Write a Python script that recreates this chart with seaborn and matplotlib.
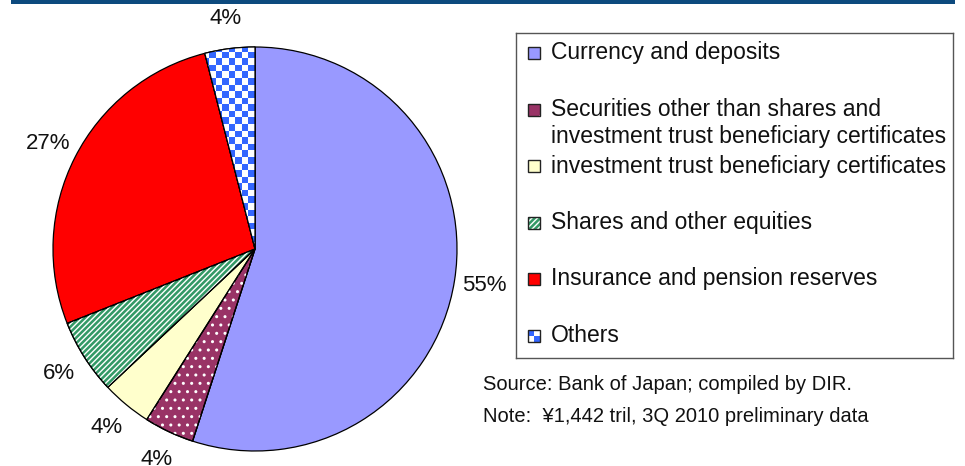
import numpy as np
import matplotlib
matplotlib.use("Agg")
import matplotlib.pyplot as plt
from matplotlib.patches import Wedge, Rectangle
from matplotlib.colors import ListedColormap
import seaborn as sns

# Household financial assets breakdown (Japan, 3Q 2010)
categories = [
    "Currency and deposits",
    "Securities other than shares and",
    "investment trust beneficiary certificates",
    "Shares and other equities",
    "Insurance and pension reserves",
    "Others",
]
extra_line = "investment trust beneficiary certificates"  # 2nd line of entry 2
shares_pct = [55, 4, 4, 6, 27, 4]
fill_colors = ["#9999ff", "#993366", "#ffffcc", "#339966", "#ff0000", "#ffffff"]
hatches = [None, "..", None, "//////", None, "checker"]

source_txt = "Source: Bank of Japan; compiled by DIR."
note_txt = "Note:  \u00a51,442 tril, 3Q 2010 preliminary data"

sns.set_theme(style="white")
plt.rcParams["font.family"] = ["Liberation Sans", "DejaVu Sans"]
plt.rcParams["hatch.linewidth"] = 1.0

W, H = 965, 466
fig = plt.figure(figsize=(W / 100, H / 100), dpi=100)
fig.patch.set_facecolor("white")

# navy band on top
fig.add_artist(Rectangle((11 / W, 1 - 4 / H), 944 / W, 4 / H,
                         transform=fig.transFigure, color="#0d4a7e", lw=0))

# --- pie ---------------------------------------------------------------
cx, cy, r = 255, H - 249, 202
half = 1.3 * r
ax = fig.add_axes([(cx - half) / W, (cy - half) / H, 2 * half / W, 2 * half / H])
wedges, _, autotexts = ax.pie(
    shares_pct, colors=fill_colors, startangle=90, counterclock=False,
    autopct=lambda p: f"{p:.0f}%", pctdistance=1.15,
    wedgeprops=dict(edgecolor="black", linewidth=0.9),
    textprops=dict(fontsize=16, color="#111111"),
)

checker = np.indices((80, 80)).sum(axis=0) % 2
checker_cmap = ListedColormap(["#ffffff", "#3366ff"])

for w, h in zip(wedges, hatches):
    if h is None:
        continue
    if h == "checker":
        clip = Wedge(w.center, w.r, w.theta1, w.theta2, transform=ax.transData)
        im = ax.imshow(checker, cmap=checker_cmap, extent=[-1.3, 1.3, -1.3, 1.3],
                       interpolation="nearest", zorder=w.get_zorder() + 0.1)
        im.set_clip_path(clip)
    else:
        ax.add_patch(Wedge(w.center, w.r, w.theta1, w.theta2, fc="none",
                           ec="white", lw=0, hatch=h, zorder=w.get_zorder() + 0.1))
    ax.add_patch(Wedge(w.center, w.r, w.theta1, w.theta2, fc="none",
                       ec="black", lw=0.9, zorder=w.get_zorder() + 0.2))

ax.set_xlim(-1.3, 1.3)
ax.set_ylim(-1.3, 1.3)
ax.set_aspect("equal")
ax.axis("off")

# --- legend box ------------------------------------------------------------
lx0, ly0, lx1, ly1 = 516, 33, 953, 358
lax = fig.add_axes([lx0 / W, 1 - ly1 / H, (lx1 - lx0) / W, (ly1 - ly0) / H])
lax.set_xlim(0, lx1 - lx0)
lax.set_ylim(ly1 - ly0, 0)
lax.set_xticks([])
lax.set_yticks([])
for s in lax.spines.values():
    s.set_color("#555555")
    s.set_linewidth(1.0)

step = 56.5
for i, (lab, col, h) in enumerate(zip(categories, fill_colors, hatches)):
    yc = 20 + i * step
    x0, sz = 12, 12
    if h == "checker":
        lax.add_patch(Rectangle((x0, yc - sz / 2), sz, sz, fc="#3366ff", lw=0))
        lax.add_patch(Rectangle((x0 + sz / 2, yc - sz / 2), sz / 2, sz / 2, fc="white", lw=0))
        lax.add_patch(Rectangle((x0, yc), sz / 2, sz / 2, fc="white", lw=0))
    else:
        lax.add_patch(Rectangle((x0, yc - sz / 2), sz, sz, fc=col, lw=0))
        if h is not None:
            lax.add_patch(Rectangle((x0, yc - sz / 2), sz, sz, fc="none", ec="white",
                                    lw=0, hatch=h if h != ".." else "."))
    lax.add_patch(Rectangle((x0, yc - sz / 2), sz, sz, fc="none", ec="#222222", lw=1.0))
    lax.text(35, yc, lab, fontsize=16.5, va="center", ha="left", color="#111111")
    if i == 1:
        lax.text(35, yc + 27.5, extra_line, fontsize=16.5, va="center",
                 ha="left", color="#111111")

# --- source / note --------------------------------------------------------
fig.text(483 / W, 1 - 385 / H, source_txt, fontsize=14.5, va="center", color="#111111")
fig.text(483 / W, 1 - 417 / H, note_txt, fontsize=14.5, va="center", color="#111111")

fig.savefig("out.png", dpi=100, facecolor="white")
